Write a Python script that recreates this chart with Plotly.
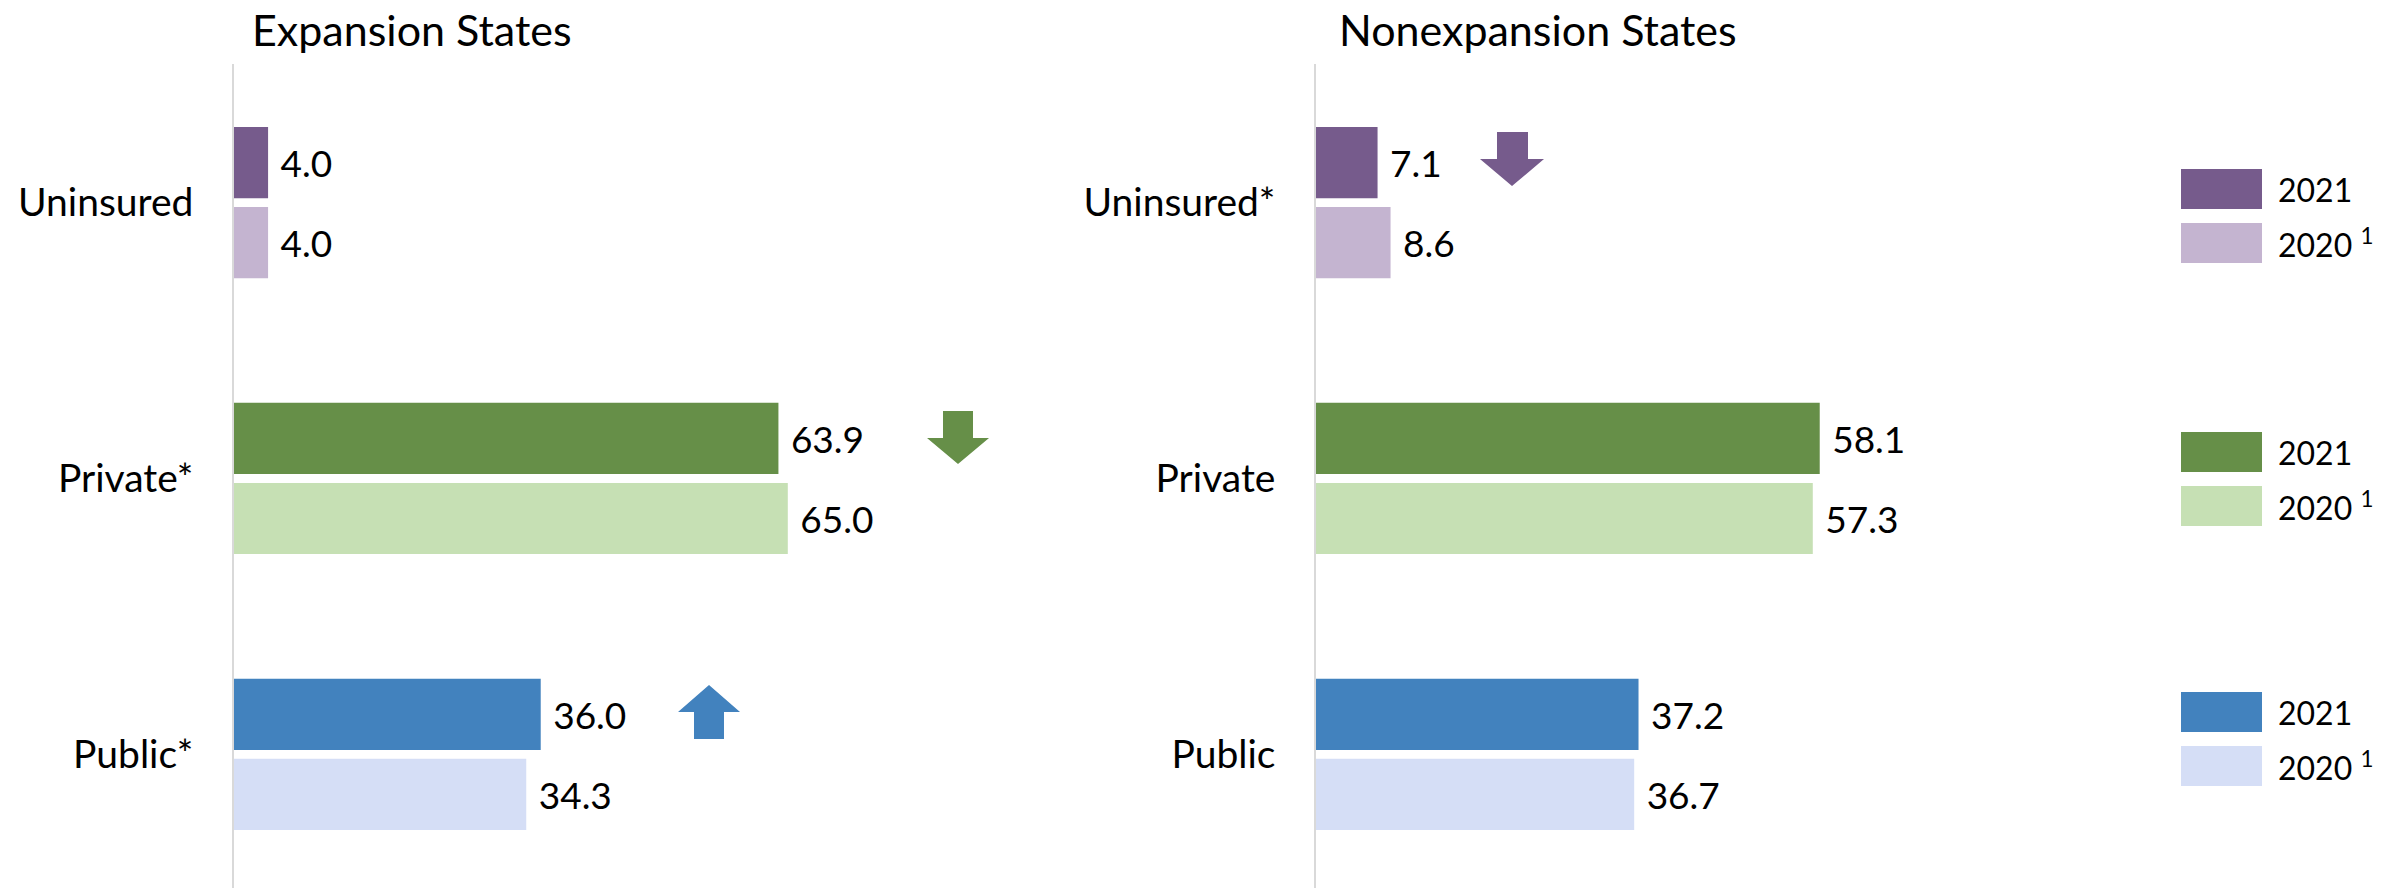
import plotly.graph_objects as go

# ---------------- data ----------------
cats_exp = ["Uninsured", "Private*", "Public*"]
cats_non = ["Uninsured*", "Private", "Public"]
exp_2021 = [4.0, 63.9, 36.0]
exp_2020 = [4.0, 65.0, 34.3]
non_2021 = [7.1, 58.1, 37.2]
non_2020 = [8.6, 57.3, 36.7]
years = ["2021", "2020 <sup>1</sup>"]
titles = ["Expansion States", "Nonexpansion States"]

# ---------------- styles ----------------
dark = ["#765B8C", "#668F48", "#4282BE"]
light = ["#C4B4D0", "#C6E0B4", "#D5DEF6"]
FONT = "Lato"
W, H = 2394, 888

def px(x):
    return x / W

def py(y):
    return 1 - y / H

fig = go.Figure()

panels = [
    ("x", "y", cats_exp, exp_2021, exp_2020),
    ("x2", "y2", cats_non, non_2021, non_2020),
]
for yr_idx, yrname in enumerate(["2021", "2020"]):
    for xa, ya, cats, v21, v20 in panels:
        vals = v21 if yr_idx == 0 else v20
        cols = dark if yr_idx == 0 else light
        for i, c in enumerate(cats):
            fig.add_trace(go.Bar(
                x=[vals[i]], y=[c], orientation="h",
                marker=dict(color=cols[i], line=dict(width=0)),
                offsetgroup=yrname, xaxis=xa, yaxis=ya,
                text=[f"\u00a0{vals[i]:.1f}"], textposition="outside",
                textfont=dict(size=37, color="black", family=FONT),
                cliponaxis=False, constraintext="none", showlegend=False,
                hoverinfo="skip",
            ))

ytop = 64
ydom = [0, (H - ytop) / H]
yrange = [2.484, -0.502]

left_x0, left_scale = 234, 8.52
right_x0, right_scale = 1316, 8.67
XMAX = 80

common_y = dict(type="category", range=yrange, domain=ydom, showline=True,
                linecolor="#D9D9D9", linewidth=1.5, showgrid=False, zeroline=False,
                ticks="outside", ticklen=31, tickcolor="rgba(0,0,0,0)",
                tickfont=dict(size=39, color="black", family=FONT), fixedrange=True)
common_x = dict(range=[0, XMAX], showgrid=False, zeroline=False, showticklabels=False,
                showline=False, ticks="", fixedrange=True)

fig.update_layout(
    width=W, height=H,
    margin=dict(l=0, r=0, t=0, b=0),
    paper_bgcolor="white", plot_bgcolor="white",
    barmode="group", bargap=0.42, bargroupgap=0.11,
    font=dict(family=FONT, color="black"),
    xaxis=dict(domain=[px(left_x0), px(left_x0 + left_scale * XMAX)], anchor="y", **common_x),
    yaxis=dict(anchor="x", categoryarray=cats_exp, categoryorder="array", **common_y),
    xaxis2=dict(domain=[px(right_x0), px(right_x0 + right_scale * XMAX)], anchor="y2", **common_x),
    yaxis2=dict(anchor="x2", categoryarray=cats_non, categoryorder="array", **common_y),
)

# titles
annotations = [
    dict(text=titles[0], x=px(250), y=py(30), xref="paper", yref="paper",
         xanchor="left", yanchor="middle", showarrow=False, font=dict(size=43, family=FONT)),
    dict(text=titles[1], x=px(1337), y=py(30), xref="paper", yref="paper",
         xanchor="left", yanchor="middle", showarrow=False, font=dict(size=43, family=FONT)),
]

shapes = []
# legends (one per category group)
legend_tops = [169, 432, 692]
sw_x0, sw_x1, sw_h, sw_gap = 2181, 2262, 40, 14
for i, top in enumerate(legend_tops):
    for j, (lbl, col) in enumerate(zip(years, [dark[i], light[i]])):
        y0 = top + j * (sw_h + sw_gap)
        shapes.append(dict(type="rect", xref="paper", yref="paper",
                           x0=px(sw_x0), x1=px(sw_x1), y0=py(y0), y1=py(y0 + sw_h),
                           fillcolor=col, line=dict(width=0)))
        annotations.append(dict(text=lbl, x=px(2276), y=py(y0 + sw_h / 2), xref="paper", yref="paper",
                                xanchor="left", yanchor="middle", showarrow=False,
                                font=dict(size=32, family=FONT)))

# change arrows
def arrow(x0, x1, xs0, xs1, y_base, y_neck, y_tip, color):
    pts = [(xs0, y_base), (xs1, y_base), (xs1, y_neck), (x1, y_neck), ((x0 + x1) / 2, y_tip),
           (x0, y_neck), (xs0, y_neck)]
    path = "M " + " L ".join(f"{px(a):.5f},{py(b):.5f}" for a, b in pts) + " Z"
    return dict(type="path", xref="paper", yref="paper", path=path, fillcolor=color, line=dict(width=0))

shapes.append(arrow(927, 989, 943, 973, 411, 438, 464, dark[1]))   # Private down (expansion)
shapes.append(arrow(678, 740, 694, 724, 739, 712, 685, dark[2]))   # Public up (expansion)
shapes.append(arrow(1480, 1544, 1497, 1528, 132, 159, 186, dark[0]))  # Uninsured down (nonexp)

fig.update_layout(annotations=annotations, shapes=shapes)
fig.write_html("out.html", config={"displayModeBar": False},
               post_script="document.body.style.margin='0px';document.body.style.overflow='hidden';")
